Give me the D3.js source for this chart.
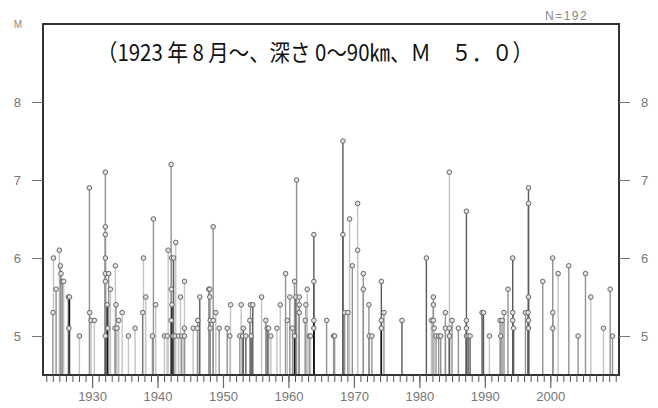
<!DOCTYPE html>
<html><head><meta charset="utf-8">
<script src="https://cdn.jsdelivr.net/npm/d3@7"></script>
<style>html,body{margin:0;padding:0;background:#fff;}svg{display:block;}</style>
</head><body>
<script>
// ---- data ----
const eventYear = [
1924.04,1924.10,1924.50,1925.00,1925.15,1925.25,1925.46,1925.66,1926.38,1926.55,
1926.45,1928.06,1929.59,1929.63,1929.85,1930.35,1932.03,1932.03,1932.03,1932.03,
1932.03,1932.03,1932.03,1932.30,1932.40,1932.54,1932.80,1933.56,1933.65,1933.50,
1933.80,1934.07,1934.59,1935.55,1936.57,1937.74,1937.85,1938.20,1939.22,1939.37,
1939.72,1941.06,1941.47,1941.62,1942.08,1942.08,1942.10,1942.15,1942.20,1942.39,
1942.45,1942.69,1942.78,1943.20,1943.50,1943.70,1944.11,1944.11,1944.11,1945.44,
1946.06,1946.15,1946.45,1947.83,1947.98,1947.98,1948.05,1948.05,1948.50,1948.50,
1948.90,1949.42,1950.64,1951.04,1951.15,1952.57,1952.78,1952.99,1953.10,1953.49,
1954.10,1954.20,1954.55,1954.30,1955.89,1956.54,1956.75,1956.95,1957.31,1958.23,
1958.75,1959.56,1959.82,1960.21,1960.63,1960.93,1960.93,1961.13,1961.24,1961.65,
1961.65,1961.65,1962.55,1962.66,1962.87,1963.18,1963.38,1963.88,1963.88,1963.88,
1963.88,1965.83,1966.90,1967.05,1968.32,1968.32,1968.58,1969.08,1969.34,1969.76,
1970.57,1970.57,1971.44,1971.44,1972.29,1972.35,1972.75,1974.19,1974.19,1974.19,
1974.59,1977.34,1981.07,1981.83,1982.14,1982.14,1982.14,1982.25,1982.54,1982.95,
1983.26,1983.98,1983.98,1984.59,1984.59,1984.59,1984.99,1985.96,1987.19,1987.19,
1987.19,1987.19,1987.45,1987.75,1989.58,1989.80,1990.70,1992.33,1992.43,1992.63,
1992.93,1993.54,1994.26,1994.26,1994.26,1994.40,1996.21,1996.60,1996.67,1996.67,
1996.67,1996.67,1996.67,1998.85,2000.38,2000.38,2000.38,2001.20,2002.83,2004.25,
2005.38,2006.19,2008.13,2009.15,2009.51
];
const eventMag = [
5.3,6.0,5.6,6.1,5.9,5.8,5.7,5.7,5.5,5.5,
5.1,5.0,6.9,5.3,5.2,5.2,7.1,6.4,6.3,6.0,
5.8,5.7,5.0,5.4,5.1,5.8,5.6,5.9,5.4,5.1,
5.1,5.2,5.3,5.0,5.1,5.3,6.0,5.5,5.0,6.5,
5.4,5.0,5.0,6.1,7.2,5.2,5.6,6.0,5.4,5.0,
6.0,5.0,6.2,5.0,5.5,5.0,5.7,5.1,5.0,5.1,
5.1,5.2,5.5,5.6,5.6,5.5,5.2,5.1,6.4,5.2,
5.3,5.1,5.1,5.0,5.4,5.0,5.4,5.0,5.1,5.0,
5.2,5.4,5.4,5.0,5.5,5.2,5.1,5.1,5.0,5.1,
5.4,5.8,5.2,5.5,5.1,5.7,5.0,5.5,7.0,5.5,
5.4,5.3,5.2,5.4,5.6,5.0,5.0,6.3,5.7,5.2,
5.1,5.2,5.0,5.0,7.5,6.3,5.3,5.3,6.5,5.9,
6.7,6.1,5.8,5.6,5.4,5.0,5.0,5.7,5.2,5.1,
5.3,5.2,6.0,5.2,5.5,5.4,5.2,5.1,5.0,5.0,
5.0,5.3,5.1,7.1,5.1,5.0,5.2,5.1,6.6,5.2,
5.1,5.0,5.0,5.0,5.3,5.3,5.0,5.2,5.0,5.2,
5.3,5.6,6.0,5.3,5.2,5.1,5.3,5.3,6.9,6.7,
5.5,5.2,5.1,5.7,6.0,5.3,5.1,5.8,5.9,5.0,
5.8,5.5,5.1,5.6,5.0
];
// depth band (0 = shallow ... 3 = deepest), drawn as grey shades
const eventDepthBand = [
2,0,1,0,1,1,1,0,2,3,
2,0,1,1,0,0,1,1,1,1,
1,1,2,3,3,1,0,0,1,1,
0,0,0,0,0,2,0,0,1,1,
0,0,0,0,1,3,1,1,3,3,
2,1,0,0,0,1,0,1,1,0,
0,1,2,1,1,1,1,1,1,1,
0,1,1,0,0,1,0,1,2,2,
1,1,2,2,0,1,2,1,0,0,
0,1,0,1,1,1,3,2,1,1,
1,1,1,1,0,1,0,2,2,3,
3,1,1,1,2,2,1,1,0,1,
0,0,1,1,1,1,1,2,2,3,
1,2,2,0,1,1,1,0,1,1,
1,1,1,0,2,2,1,1,2,2,
2,2,2,2,2,2,0,1,1,1,
1,1,2,2,2,2,1,1,2,2,
2,2,2,1,1,1,1,0,1,1,
1,0,0,1,1
];
const yearMajorTicks = [1930,1940,1950,1960,1970,1980,1990,2000];
const magTicks = [5,6,7,8];
const yearDomain = [1922.5, 2010.5];
const magDomain = [4.5, 9];
const titleText = "（1923 年 8 月～、深さ 0～90㎞、Ｍ　５．０）";
const countText = "N=192";
const magLabel = "M";

// ---- drawing ----
const W = 658, H = 408;
const svg = d3.select("body").append("svg").attr("width", W).attr("height", H);
const L = 43, R = 619, T = 24, B = 375;
const x = d3.scaleLinear().domain(yearDomain).range([L, R]);
const y = d3.scaleLinear().domain(magDomain).range([B, T]);
const shade = d3.scaleOrdinal().domain([0,1,2,3]).range(["#c4c4c4","#929292","#5a5a5a","#111111"]);

const events = eventYear.map((t,i)=>({t, m:eventMag[i], d:eventDepthBand[i]}));

// stems
svg.append("g").selectAll("line").data(events).join("line")
  .attr("x1", d=>x(d.t)).attr("x2", d=>x(d.t))
  .attr("y1", y(magDomain[0])).attr("y2", d=>y(d.m))
  .attr("stroke", d=>shade(d.d)).attr("stroke-width", 1.4);
// markers
svg.append("g").selectAll("circle").data(events).join("circle")
  .attr("cx", d=>x(d.t)).attr("cy", d=>y(d.m)).attr("r", 2.3)
  .attr("fill", "#e2e2e2").attr("stroke", "#666").attr("stroke-width", 1);

// frame
svg.append("rect").attr("x", L).attr("y", T).attr("width", R-L).attr("height", B-T)
  .attr("fill", "none").attr("stroke", "#333").attr("stroke-width", 2);

const tickFont = "'Liberation Sans', Arial, sans-serif";
// bottom minor ticks
const minorYears = d3.range(1923, 2011);
const gMinor = svg.append("g").attr("transform", `translate(0,${B})`)
  .call(d3.axisBottom(x).tickValues(minorYears).tickSize(7).tickFormat(""));
gMinor.select(".domain").remove();
gMinor.selectAll("line").attr("stroke", "#555").attr("stroke-width", 1);
const gMajor = svg.append("g").attr("transform", `translate(0,${B})`)
  .call(d3.axisBottom(x).tickValues(yearMajorTicks).tickSize(13).tickPadding(4).tickFormat(d3.format("d")));
gMajor.select(".domain").remove();
gMajor.selectAll("line").attr("stroke", "#666").attr("stroke-width", 1.2);
gMajor.selectAll("text").attr("fill", "#777").style("font-family", tickFont).style("font-size", "13px");

// right axis
const gR = svg.append("g").attr("transform", `translate(${R},0)`)
  .call(d3.axisRight(y).tickValues(magTicks).tickSize(11).tickPadding(11).tickFormat(d3.format("d")));
gR.select(".domain").remove();
gR.selectAll("line").attr("stroke", "#777");
gR.selectAll("text").attr("fill", "#777").style("font-family", tickFont).style("font-size", "13px");
// left axis
const gL = svg.append("g").attr("transform", `translate(${L},0)`)
  .call(d3.axisLeft(y).tickValues(magTicks).tickSize(11).tickPadding(11).tickFormat(d3.format("d")));
gL.select(".domain").remove();
gL.selectAll("line").attr("stroke", "#777");
gL.selectAll("text").attr("fill", "#777").style("font-family", tickFont).style("font-size", "13px");

// labels
svg.append("text").attr("x", 18).attr("y", 28).attr("text-anchor", "middle")
  .attr("fill", "#888").style("font-family", tickFont).style("font-size", "10px").text(magLabel);
svg.append("text").attr("x", 545).attr("y", 20)
  .attr("fill", "#888").style("font-family", tickFont).style("font-size", "12px")
  .style("letter-spacing", "1.5px").text(countText);
svg.append("text").attr("transform", "translate(97,61) scale(1,1.1)")
  .attr("textLength", 436).attr("lengthAdjust", "spacingAndGlyphs")
  .attr("fill", "#111").style("font-family", "'Noto Sans CJK JP', sans-serif").style("font-size", "21px")
  .text(titleText);
</script>
</body></html>
